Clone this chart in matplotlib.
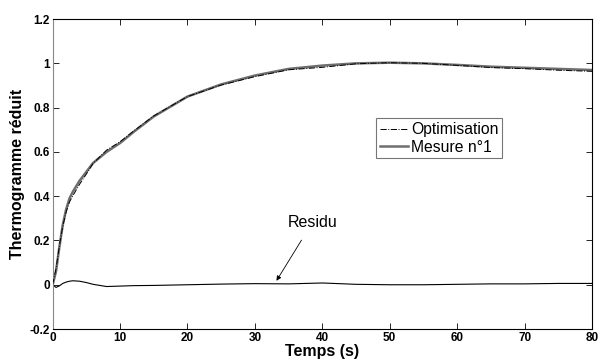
import numpy as np
import matplotlib
matplotlib.use("Agg")
import matplotlib.pyplot as plt

plt.rcParams['font.family'] = ['Liberation Sans', 'DejaVu Sans']

# Temps (s)
t = [0, 0.5, 1, 1.5, 2, 2.5, 3, 4, 5, 6, 8, 10, 12, 15, 20, 25, 30, 35,
     40, 45, 50, 55, 60, 65, 70, 75, 80]
# Mesure n°1
mesure = [0, 0.06, 0.17, 0.27, 0.34, 0.39, 0.42, 0.47, 0.51, 0.55, 0.60, 0.64,
          0.69, 0.76, 0.85, 0.905, 0.945, 0.975, 0.99, 1.0, 1.003, 1.0, 0.993,
          0.985, 0.98, 0.975, 0.97]
# Residu
residu = [0, -0.012, -0.005, 0.006, 0.012, 0.016, 0.018, 0.016, 0.01, 0.002,
          -0.008, -0.006, -0.004, -0.003, 0.0, 0.003, 0.005, 0.004, 0.008,
          0.002, 0.0, 0.0, 0.002, 0.004, 0.004, 0.006, 0.006]

optim = np.array(mesure) - np.array(residu)

fig = plt.figure(figsize=(5.98, 3.6), dpi=100)
ax = fig.add_axes([0.088, 0.086, 0.902, 0.861])

ax.plot(t, optim, color='black', lw=0.7, ls='-.', label='Optimisation', zorder=3)
ax.plot(t, mesure, color='#6e6e6e', lw=1.8, ls='-', label='Mesure n°1', zorder=2)
ax.plot(t, residu, color='black', lw=0.8, ls='-')

ax.annotate('Residu', xy=(33.2, 0.018), xytext=(38.5, 0.28), ha='center', va='center',
            fontsize=11.5,
            arrowprops=dict(arrowstyle='-|>', color='black', lw=0.6,
                            mutation_scale=7, shrinkA=6, shrinkB=0))

ax.set_xlim(0, 80)
ax.set_ylim(-0.2, 1.2)
ax.set_xticks(np.arange(0, 81, 10))
ax.set_yticks(np.arange(-0.2, 1.21, 0.2))
ax.set_yticklabels(['-0.2', '0', '0.2', '0.4', '0.6', '0.8', '1', '1.2'])
ax.tick_params(direction='in', top=True, right=True, length=4, width=0.6,
               labelsize=8.5, pad=2)
for lab in ax.get_xticklabels() + ax.get_yticklabels():
    lab.set_fontweight('bold')
for s in ax.spines.values():
    s.set_linewidth(0.8)
ax.spines['left'].set_color('#888888')

ax.set_xlabel('Temps (s)', fontsize=11.5, fontweight='bold', labelpad=0)
ax.set_ylabel('Thermogramme réduit', fontsize=11.5, fontweight='bold', labelpad=3)

leg = ax.legend(loc='upper left', bbox_to_anchor=(0.60, 0.68), fontsize=11.3,
                frameon=True, fancybox=False, handlelength=1.8, handletextpad=0.15,
                borderpad=0.25, labelspacing=0.15, borderaxespad=0)
leg.get_frame().set_edgecolor('#555555')
leg.get_frame().set_linewidth(0.8)

fig.savefig('out.png', dpi=100)
